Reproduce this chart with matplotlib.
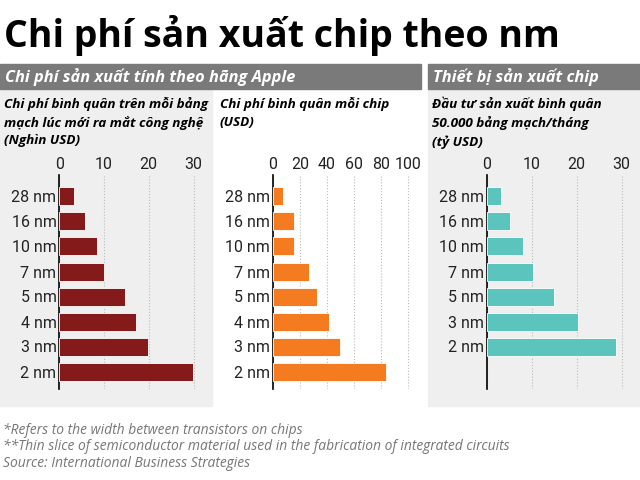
import matplotlib
matplotlib.use("Agg")
import matplotlib.pyplot as plt
from matplotlib.patches import Rectangle

cats = ["28 nm", "16 nm", "10 nm", "7 nm", "5 nm", "4 nm", "3 nm", "2 nm"]
wafer_cost = [3.4, 5.8, 8.4, 9.9, 14.8, 17.1, 19.9, 29.9]
chip_cost = [7.8, 15.7, 16.0, 26.8, 33.1, 41.3, 50.0, 83.7]
cats3 = ["28 nm", "16 nm", "10 nm", "7 nm", "5 nm", "3 nm", "2 nm"]
fab_cost = [3.2, 5.3, 8.1, 10.3, 15.0, 20.3, 28.7]

W, H = 640, 480
fig = plt.figure(figsize=(6.4, 4.8), dpi=100)
fig.patch.set_facecolor("white")

def px(x, y, w, h):
    return [x / W, 1 - (y + h) / H, w / W, h / H]

bg = fig.add_axes([0, 0, 1, 1]); bg.set_xlim(0, W); bg.set_ylim(H, 0); bg.axis("off")
bg.add_patch(Rectangle((0, 88), 212, 318, color="#eeefee"))
bg.add_patch(Rectangle((428, 88), 212, 318, color="#eeefee"))
bg.add_patch(Rectangle((0, 64), 421, 25, color="#7a7a7a"))
bg.add_patch(Rectangle((428, 64), 212, 25, color="#7a7a7a"))

fig.text(4 / W, 1 - 36 / H, "Chi phí sản xuất chip theo nm", fontsize=27, fontweight="bold",
         family="Open Sans", va="center", ha="left")
fig.text(5 / W, 1 - 77 / H, "Chi phí sản xuất tính theo hãng Apple", fontsize=11.8, style="italic",
         fontweight="bold", color="white", family="Open Sans", va="center")
fig.text(433 / W, 1 - 77 / H, "Thiết bị sản xuất chip", fontsize=11.8, style="italic",
         fontweight="bold", color="white", family="Open Sans", va="center")
sub = dict(fontsize=9.7, style="italic", fontweight="bold", family="Open Sans", va="top", linespacing=1.45)
fig.text(4 / W, 1 - 97 / H, "Chi phí bình quân trên mỗi bảng\nmạch lúc mới ra mắt công nghệ\n(Nghìn USD)", **sub)
fig.text(220 / W, 1 - 97 / H, "Chi phí bình quân mỗi chip\n(USD)", **sub)
fig.text(432 / W, 1 - 97 / H, "Đầu tư sản xuất bình quân\n50.000 bảng mạch/tháng\n(tỷ USD)", **sub)
fig.text(3 / W, 1 - 447 / H, "*Refers to the width between transistors on chips\n**Thin slice of semiconductor material used in the fabrication of integrated circuits\nSource: International Business Strategies",
         fontsize=10, style="italic", color="#777777", family="Open Sans", va="center", linespacing=1.15)

def panel(x0, xmax, ticks, labels, vals, color, xlimmax):
    scale = (xmax - x0) / ticks[-1]
    right = x0 + xlimmax * scale
    ax = fig.add_axes(px(x0, 175, right - x0, 214))
    ax.set_facecolor("none")
    n = len(vals)
    ax.barh(range(n), vals, height=0.72, color=color, edgecolor="white", linewidth=0.6, zorder=3)
    ax.set_ylim(7.7, -0.86)
    ax.set_xlim(0, xlimmax)
    ax.set_yticks(range(n)); ax.set_yticklabels(labels)
    ax.set_xticks(ticks)
    ax.xaxis.tick_top()
    ax.tick_params(length=0, labelsize=11.5, pad=2)
    for l in ax.get_xticklabels() + ax.get_yticklabels():
        l.set_family("Roboto"); l.set_color("#222222")
    ax.grid(axis="x", linestyle=":", color="#bbbbbb", linewidth=0.8, zorder=0)
    for s in ["top", "right", "bottom"]:
        ax.spines[s].set_visible(False)
    ax.spines["left"].set_linewidth(1.2)

panel(59.2, 193.5, [0, 10, 20, 30], cats, wafer_cost, "#841b1a", 31.5)
panel(272.7, 408, [0, 20, 40, 60, 80, 100], cats, chip_cost, "#f47b20", 103)
panel(486.5, 621.6, [0, 10, 20, 30], cats3, fab_cost, "#5bc4bd", 31.5)

fig.savefig("out.png", dpi=100)
